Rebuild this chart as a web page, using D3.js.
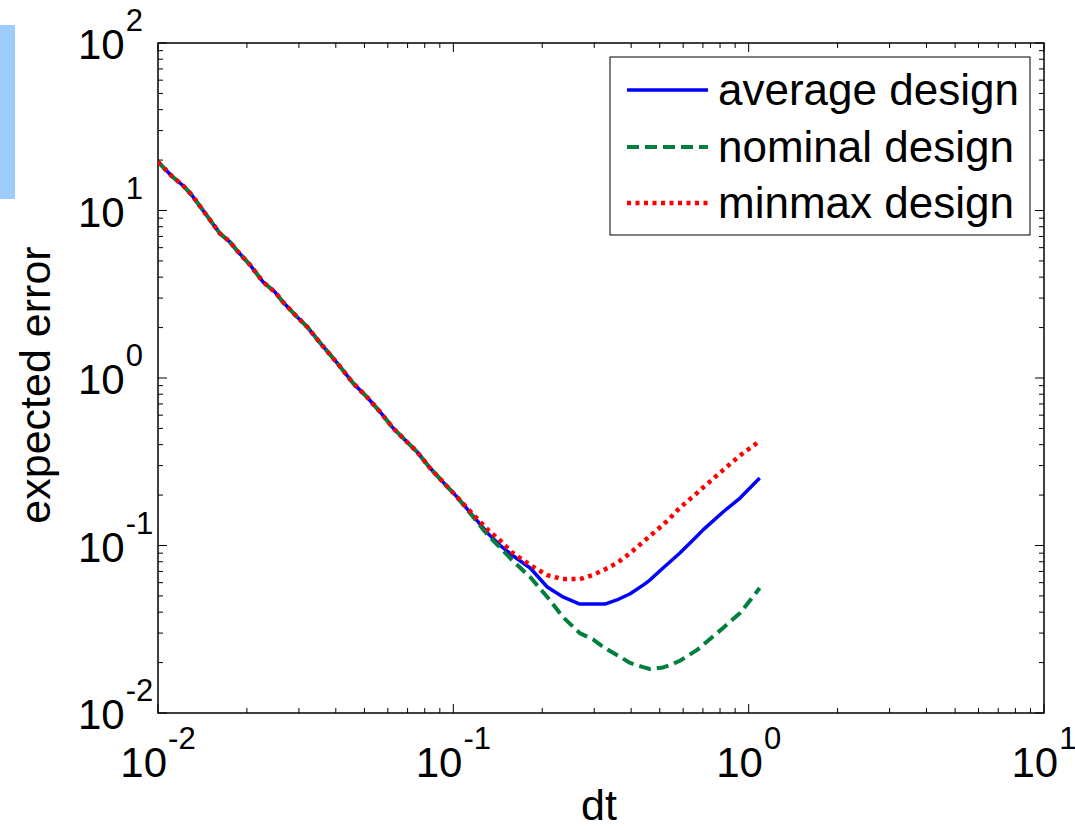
<!DOCTYPE html>
<html>
<head>
<meta charset="utf-8">
<script src="https://cdn.jsdelivr.net/npm/d3@7"></script>
<style>
  html, body { margin: 0; padding: 0; background: #fff; }
  svg { display: block; font-family: "Liberation Sans", Arial, Helvetica, sans-serif; }
</style>
</head>
<body>
<svg id="chart" width="1075" height="830"></svg>
<script>
// Time step values (shared by all three designs)
const dt = [0.0100, 0.0112, 0.0122, 0.0130, 0.0144, 0.0162, 0.0175, 0.0187, 0.0205, 0.0227,
            0.0249, 0.0265, 0.0296, 0.0320, 0.0354, 0.0404, 0.0458, 0.0510, 0.0565, 0.0625,
            0.0697, 0.0754, 0.0834, 0.0923, 0.1029, 0.1160, 0.1310, 0.1450, 0.1580, 0.1820,
            0.2080, 0.2350, 0.2680, 0.2970, 0.3260, 0.3580, 0.3970, 0.4390, 0.4630, 0.5130,
            0.5420, 0.5850, 0.6690, 0.7010, 0.8190, 0.9350, 1.0900];

const averageDesign = [19.5, 15.9, 14.0, 12.4, 9.7, 7.3, 6.5, 5.65, 4.73, 3.74,
                       3.26, 2.84, 2.31, 2.02, 1.62, 1.23, 0.93, 0.77, 0.627, 0.503,
                       0.415, 0.362, 0.290, 0.239, 0.195, 0.152, 0.118, 0.099, 0.0878, 0.0734,
                       0.0565, 0.0493, 0.0447, 0.0447, 0.0447, 0.0473, 0.0515, 0.0580, 0.0622, 0.0734,
                       0.0800, 0.0902, 0.114, 0.124, 0.1585, 0.192, 0.253];

const nominalDesign = [19.5, 15.9, 14.0, 12.4, 9.7, 7.3, 6.5, 5.65, 4.73, 3.74,
                       3.26, 2.84, 2.31, 2.02, 1.62, 1.23, 0.93, 0.77, 0.627, 0.503,
                       0.415, 0.362, 0.290, 0.239, 0.195, 0.150, 0.115, 0.096, 0.0819, 0.0648,
                       0.0493, 0.0374, 0.0300, 0.0275, 0.0244, 0.0222, 0.0199, 0.0188, 0.0183, 0.0187,
                       0.0193, 0.0205, 0.0238, 0.0255, 0.0322, 0.0395, 0.0557];

const minmaxDesign = [19.5, 15.9, 14.0, 12.4, 9.7, 7.3, 6.5, 5.65, 4.73, 3.74,
                      3.26, 2.84, 2.31, 2.02, 1.62, 1.23, 0.93, 0.77, 0.627, 0.503,
                      0.415, 0.362, 0.290, 0.239, 0.195, 0.155, 0.124, 0.106, 0.091, 0.0765,
                      0.0665, 0.0630, 0.0630, 0.0667, 0.0720, 0.0786, 0.0900, 0.105, 0.114, 0.133,
                      0.146, 0.168, 0.206, 0.222, 0.282, 0.345, 0.420];

const seriesNames = ["average design", "nominal design", "minmax design"];
const xTickExponents = ["-2", "-1", "0", "1"];
const yTickExponents = ["-2", "-1", "0", "1", "2"];
const xLabel = "dt";
const yLabel = "expected error";

// Layout
const plot = { left: 158, right: 1044, top: 43, bottom: 713 };
const tickFont = 42, expFont = 31, labelFont = 43, legendFont = 44;

const svg = d3.select("#chart");

// Decorative strip at the far left edge
svg.append("rect").attr("x", 0).attr("y", 25).attr("width", 15).attr("height", 174)
  .attr("fill", "#9dcdfc");

const x = d3.scaleLog().domain([0.01, 10]).range([plot.left, plot.right]);
const y = d3.scaleLog().domain([0.01, 100]).range([plot.bottom, plot.top]);

// Tick marks (major at decades, minor at 2..9), inward on all four sides
function logTicks(domain) {
  const out = [];
  const lo = Math.round(Math.log10(domain[0])), hi = Math.round(Math.log10(domain[1]));
  for (let e = lo; e <= hi; e++) {
    for (let m = 1; m <= 9; m++) {
      const v = m * Math.pow(10, e);
      if (v >= domain[0] * 0.999 && v <= domain[1] * 1.001) out.push({ v, major: m === 1 });
    }
  }
  return out;
}
const tickG = svg.append("g").attr("stroke", "#000").attr("stroke-width", 1);
logTicks(x.domain()).forEach(t => {
  const len = t.major ? 9 : 5, px = x(t.v);
  tickG.append("line").attr("x1", px).attr("x2", px).attr("y1", plot.bottom).attr("y2", plot.bottom - len);
  tickG.append("line").attr("x1", px).attr("x2", px).attr("y1", plot.top).attr("y2", plot.top + len);
});
logTicks(y.domain()).forEach(t => {
  const len = t.major ? 9 : 5, py = y(t.v);
  tickG.append("line").attr("x1", plot.left).attr("x2", plot.left + len).attr("y1", py).attr("y2", py);
  tickG.append("line").attr("x1", plot.right).attr("x2", plot.right - len).attr("y1", py).attr("y2", py);
});

// Axis box
svg.append("rect").attr("x", plot.left).attr("y", plot.top)
  .attr("width", plot.right - plot.left).attr("height", plot.bottom - plot.top)
  .attr("fill", "none").attr("stroke", "#000").attr("stroke-width", 1.5);

// Tick labels: "10" with a superscript exponent
function powerLabel(g, exp) {
  const base = g.append("text").attr("font-size", tickFont).attr("fill", "#000").text("10");
  const w = base.node().getComputedTextLength();
  const sup = g.append("text").attr("x", w + 1).attr("y", -28)
    .attr("font-size", expFont).attr("fill", "#000").text(exp);
  return w + 1 + sup.node().getComputedTextLength();
}
xTickExponents.forEach(exp => {
  const v = Math.pow(10, +exp);
  const g = svg.append("g");
  const w = powerLabel(g, exp);
  g.attr("transform", `translate(${x(v) - w / 2},777)`);
});
yTickExponents.forEach(exp => {
  const v = Math.pow(10, +exp);
  const g = svg.append("g");
  powerLabel(g, exp);
  g.attr("transform", `translate(78,${y(v) + 16})`);
});

// Axis titles
svg.append("text").attr("x", (plot.left + plot.right) / 2 - 2).attr("y", 820)
  .attr("text-anchor", "middle").attr("font-size", labelFont).text(xLabel);
svg.append("text").attr("transform", `translate(50,${(plot.top + plot.bottom) / 2 + 7}) rotate(-90)`)
  .attr("text-anchor", "middle").attr("font-size", labelFont).text(yLabel);

// Curves
const styles = [
  { color: "#0000ff", dash: null, width: 3.5 },
  { color: "#00803c", dash: "12,6", width: 4 },
  { color: "#ff0000", dash: "4,4.5", width: 4.5 }
];
const data = [averageDesign, nominalDesign, minmaxDesign];
const line = d3.line().x(d => x(d[0])).y(d => y(d[1]));
svg.append("clipPath").attr("id", "plotClip").append("rect")
  .attr("x", plot.left).attr("y", plot.top)
  .attr("width", plot.right - plot.left).attr("height", plot.bottom - plot.top);
const curves = svg.append("g").attr("clip-path", "url(#plotClip)");
data.forEach((vals, i) => {
  const pts = dt.map((d, j) => [d, vals[j]]);
  const p = curves.append("path").attr("d", line(pts)).attr("fill", "none")
    .attr("stroke", styles[i].color).attr("stroke-width", styles[i].width)
    .attr("stroke-linejoin", "round");
  if (styles[i].dash) p.attr("stroke-dasharray", styles[i].dash);
});

// Legend
const legend = svg.append("g");
legend.append("rect").attr("x", 610).attr("y", 57).attr("width", 420).attr("height", 178)
  .attr("fill", "#fff").attr("stroke", "#000").attr("stroke-width", 1);
const rowY = [90, 147, 203];
seriesNames.forEach((name, i) => {
  const l = legend.append("line").attr("x1", 627).attr("x2", 708)
    .attr("y1", rowY[i]).attr("y2", rowY[i])
    .attr("stroke", styles[i].color).attr("stroke-width", styles[i].width);
  if (styles[i].dash) l.attr("stroke-dasharray", styles[i].dash);
  legend.append("text").attr("x", 718).attr("y", rowY[i] + 15)
    .attr("font-size", legendFont).attr("fill", "#000").text(name);
});
</script>
</body>
</html>
